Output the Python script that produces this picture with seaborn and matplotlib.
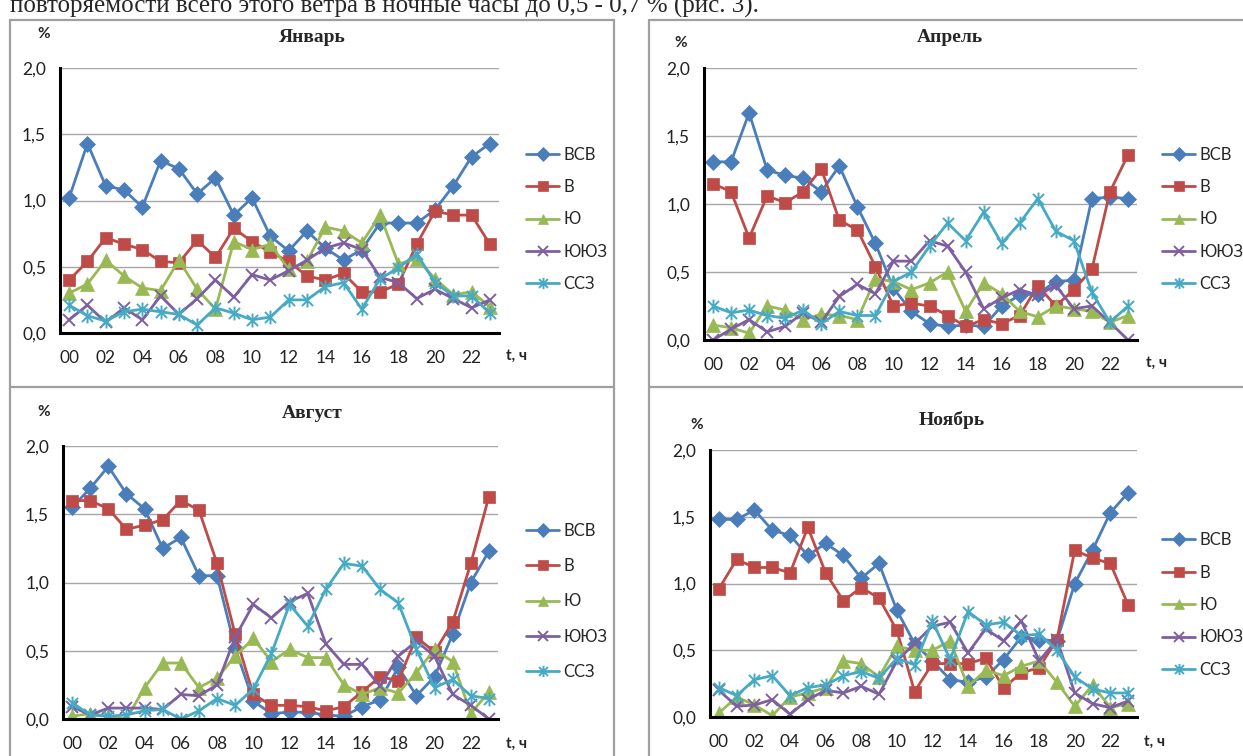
import numpy as np
import matplotlib
matplotlib.use("Agg")
import matplotlib.pyplot as plt
from matplotlib.path import Path
from matplotlib.lines import Line2D
from matplotlib.ticker import FuncFormatter, FixedLocator
import seaborn as sns

# ---- data: hourly wind-direction frequency, % ----
hours = list(range(24))
hour_labels = [f"{h:02d}" for h in range(0, 24, 2)]
series_names = ["ВСВ", "В", "Ю", "ЮЮЗ", "ССЗ"]

jan_vsv = [1.02, 1.43, 1.11, 1.08, 0.95, 1.30, 1.24, 1.05, 1.17, 0.89, 1.02, 0.73,
           0.62, 0.77, 0.64, 0.55, 0.63, 0.83, 0.83, 0.83, 0.93, 1.11, 1.33, 1.43]
jan_v = [0.40, 0.54, 0.72, 0.67, 0.63, 0.54, 0.53, 0.70, 0.57, 0.79, 0.69, 0.61,
         0.54, 0.43, 0.40, 0.45, 0.31, 0.31, 0.37, 0.67, 0.92, 0.89, 0.89, 0.67]
jan_yu = [0.30, 0.37, 0.55, 0.43, 0.34, 0.32, 0.55, 0.33, 0.18, 0.69, 0.63, 0.67,
          0.48, 0.54, 0.80, 0.77, 0.68, 0.89, 0.52, 0.56, 0.41, 0.29, 0.31, 0.20]
jan_yuyuz = [0.10, 0.21, 0.08, 0.19, 0.10, 0.28, 0.14, 0.26, 0.40, 0.27, 0.44, 0.40,
             0.47, 0.55, 0.64, 0.68, 0.63, 0.42, 0.38, 0.26, 0.33, 0.26, 0.19, 0.25]
jan_ssz = [0.21, 0.13, 0.09, 0.16, 0.18, 0.16, 0.14, 0.06, 0.19, 0.15, 0.10, 0.12,
           0.25, 0.25, 0.35, 0.38, 0.18, 0.41, 0.49, 0.60, 0.38, 0.28, 0.28, 0.15]

apr_vsv = [1.31, 1.31, 1.67, 1.25, 1.21, 1.19, 1.09, 1.28, 0.98, 0.71, 0.38, 0.21,
           0.12, 0.10, 0.11, 0.10, 0.25, 0.33, 0.34, 0.43, 0.44, 1.04, 1.05, 1.04]
apr_v = [1.15, 1.09, 0.75, 1.06, 1.01, 1.09, 1.26, 0.88, 0.81, 0.54, 0.25, 0.27,
         0.25, 0.18, 0.10, 0.15, 0.12, 0.18, 0.40, 0.25, 0.37, 0.52, 1.09, 1.36]
apr_yu = [0.11, 0.09, 0.05, 0.25, 0.22, 0.15, 0.19, 0.18, 0.15, 0.45, 0.43, 0.37,
          0.42, 0.50, 0.21, 0.42, 0.34, 0.21, 0.17, 0.25, 0.23, 0.21, 0.13, 0.18]
apr_yuyuz = [0.00, 0.08, 0.15, 0.06, 0.10, 0.20, 0.13, 0.32, 0.41, 0.34, 0.58, 0.58,
             0.73, 0.69, 0.50, 0.23, 0.31, 0.37, 0.33, 0.40, 0.23, 0.25, 0.13, 0.00]
apr_ssz = [0.25, 0.20, 0.22, 0.18, 0.16, 0.22, 0.12, 0.21, 0.18, 0.18, 0.43, 0.50,
           0.69, 0.86, 0.73, 0.94, 0.71, 0.86, 1.04, 0.80, 0.73, 0.35, 0.13, 0.25]

aug_vsv = [1.55, 1.69, 1.85, 1.65, 1.54, 1.25, 1.33, 1.05, 1.05, 0.52, 0.13, 0.04,
           0.05, 0.05, 0.03, 0.02, 0.09, 0.14, 0.38, 0.17, 0.31, 0.62, 1.00, 1.23]
aug_v = [1.60, 1.60, 1.54, 1.39, 1.42, 1.46, 1.60, 1.53, 1.14, 0.62, 0.18, 0.10,
         0.10, 0.09, 0.06, 0.09, 0.20, 0.31, 0.28, 0.60, 0.49, 0.71, 1.14, 1.63]
aug_yu = [0.02, 0.04, 0.02, 0.00, 0.23, 0.41, 0.41, 0.23, 0.30, 0.46, 0.59, 0.42,
          0.51, 0.45, 0.45, 0.25, 0.18, 0.23, 0.19, 0.34, 0.51, 0.42, 0.04, 0.20]
aug_yuyuz = [0.09, 0.03, 0.08, 0.08, 0.08, 0.07, 0.18, 0.17, 0.25, 0.60, 0.84, 0.74,
             0.86, 0.92, 0.55, 0.40, 0.40, 0.24, 0.46, 0.57, 0.46, 0.18, 0.10, 0.00]
aug_ssz = [0.12, 0.03, 0.02, 0.03, 0.06, 0.07, 0.00, 0.06, 0.15, 0.10, 0.22, 0.48,
           0.84, 0.68, 0.95, 1.14, 1.12, 0.95, 0.85, 0.51, 0.23, 0.29, 0.17, 0.15]

nov_vsv = [1.48, 1.48, 1.55, 1.40, 1.36, 1.21, 1.30, 1.21, 1.04, 1.15, 0.80, 0.55,
           0.42, 0.28, 0.26, 0.30, 0.43, 0.60, 0.58, 0.57, 1.00, 1.25, 1.53, 1.68]
nov_v = [0.96, 1.18, 1.12, 1.12, 1.08, 1.42, 1.08, 0.87, 0.97, 0.89, 0.65, 0.19,
         0.40, 0.40, 0.40, 0.44, 0.22, 0.33, 0.37, 0.58, 1.25, 1.19, 1.15, 0.84]
nov_yu = [0.03, 0.15, 0.09, 0.01, 0.15, 0.18, 0.22, 0.42, 0.40, 0.30, 0.53, 0.50,
          0.50, 0.57, 0.23, 0.35, 0.31, 0.38, 0.42, 0.26, 0.08, 0.24, 0.07, 0.10]
nov_yuyuz = [0.20, 0.08, 0.09, 0.13, 0.02, 0.13, 0.20, 0.18, 0.23, 0.17, 0.42, 0.55,
             0.68, 0.71, 0.48, 0.66, 0.57, 0.72, 0.42, 0.58, 0.18, 0.10, 0.07, 0.12]
nov_ssz = [0.22, 0.16, 0.28, 0.31, 0.16, 0.22, 0.24, 0.31, 0.34, 0.29, 0.44, 0.39,
           0.72, 0.43, 0.79, 0.69, 0.71, 0.61, 0.62, 0.50, 0.30, 0.21, 0.18, 0.18]

months = ["Январь", "Апрель", "Август", "Ноябрь"]
month_series = [
    [jan_vsv, jan_v, jan_yu, jan_yuyuz, jan_ssz],
    [apr_vsv, apr_v, apr_yu, apr_yuyuz, apr_ssz],
    [aug_vsv, aug_v, aug_yu, aug_yuyuz, aug_ssz],
    [nov_vsv, nov_v, nov_yu, nov_yuyuz, nov_ssz],
]

# ---- styling ----
sns.set_style("white")
plt.rcParams["font.family"] = ["Lato", "Noto Sans", "DejaVu Sans"]

W, H = 1243, 756
colors = ["#4a7ebb", "#be4b48", "#98b954", "#7d60a0", "#46aac5"]
asterisk = Path([(-1, -1), (1, 1), (-1, 1), (1, -1), (0, -1.25), (0, 1.25)],
                [Path.MOVETO, Path.LINETO, Path.MOVETO, Path.LINETO, Path.MOVETO, Path.LINETO])
marker_kw = [
    dict(marker="D", markersize=8.5, markerfacecolor=colors[0], markeredgecolor=colors[0], markeredgewidth=0.5),
    dict(marker="s", markersize=9, markerfacecolor=colors[1], markeredgecolor=colors[1], markeredgewidth=0.5),
    dict(marker="^", markersize=9.5, markerfacecolor=colors[2], markeredgecolor=colors[2], markeredgewidth=0.5),
    dict(marker="x", markersize=9, markerfacecolor="none", markeredgecolor=colors[3], markeredgewidth=1.4),
    dict(marker=asterisk, markersize=10, markerfacecolor="none", markeredgecolor=colors[4], markeredgewidth=1.4),
]

# pixel layout of each panel: axes box, title, "%" label, "t, ч" label, legend anchor, legend row step
panels = [
    dict(ax=(60, 68, 499, 333), title=(312, 38), pct=(44, 34), tlab=(517, 356), leg=(526, 147), step=31.2),
    dict(ax=(704, 68, 1137, 340), title=(950, 38), pct=(681, 43), tlab=(1157, 363), leg=(1162, 147), step=31.2),
    dict(ax=(63, 446, 498, 719), title=(312, 413), pct=(44, 412), tlab=(516, 744), leg=(526, 523), step=34.2),
    dict(ax=(710, 450, 1137, 717), title=(952, 420), pct=(697, 425), tlab=(1155, 742), leg=(1162, 532), step=31.5),
]

fig = plt.figure(figsize=(W / 100, H / 100), dpi=100)

comma = FuncFormatter(lambda v, pos: f"{v:.1f}".replace(".", ","))

for name, data, p in zip(months, month_series, panels):
    x0, y0, x1, y1 = p["ax"]
    ax = fig.add_axes([x0 / W, 1 - y1 / H, (x1 - x0) / W, (y1 - y0) / H])
    handles = []
    for label, vals, col, mk in zip(series_names, data, colors, marker_kw):
        sns.lineplot(x=hours, y=vals, ax=ax, color=col, linewidth=2.0, **mk)
        handles.append(Line2D([], [], color=col, linewidth=2.0, **{**mk, "markersize": mk["markersize"] * 0.8}))
    ax.set_xlim(-0.5, 23.5)
    ax.set_ylim(0, 2.0)
    ax.set_xlabel("")
    ax.set_ylabel("")
    ax.set_yticks([0, 0.5, 1.0, 1.5, 2.0])
    ax.yaxis.set_major_formatter(comma)
    ax.set_xticks(range(0, 24, 2))
    ax.set_xticklabels(hour_labels)
    ax.xaxis.set_minor_locator(FixedLocator(np.arange(-0.5, 24, 1)))
    ax.tick_params(axis="x", which="major", length=0, pad=12, labelsize=12.5, colors="#222222")
    ax.tick_params(axis="x", which="minor", length=4, width=1.6, direction="out", color="black")
    ax.tick_params(axis="y", which="major", length=4, width=1.6, direction="out", pad=6,
                   labelsize=12.5, colors="#222222")
    ax.tick_params(axis="both", color="black")
    ax.grid(axis="y", color="#a6a6a6", linewidth=1.0)
    ax.grid(axis="x", visible=False)
    ax.set_axisbelow(True)
    for side in ("top", "right"):
        ax.spines[side].set_visible(False)
    for side in ("left", "bottom"):
        ax.spines[side].set_color("black")
        ax.spines[side].set_linewidth(2.2)
        ax.spines[side].set_zorder(5)

    fs = 12
    row_px = 15.0
    ax.legend(handles, series_names, loc="upper left",
              bbox_to_anchor=(p["leg"][0] / W, 1 - p["leg"][1] / H), bbox_transform=fig.transFigure,
              frameon=False, borderpad=0, borderaxespad=0, handlelength=2.0, handletextpad=0.25,
              labelspacing=(p["step"] - row_px) / (fs * 100 / 72), fontsize=fs)

    fig.text(p["title"][0] / W, 1 - p["title"][1] / H, name, ha="center", va="center",
             fontsize=14, fontweight="bold", family="Liberation Serif")
    fig.text(p["pct"][0] / W, 1 - p["pct"][1] / H, "%", ha="center", va="center",
             fontsize=11, fontweight="bold")
    fig.text(p["tlab"][0] / W, 1 - p["tlab"][1] / H, "t, ч", ha="center", va="center",
             fontsize=11, fontweight="bold")

# table cell borders around the four charts
border = dict(color="#a0a0a0", linewidth=1.6, transform=fig.transFigure)
def hline(y, xa, xb):
    fig.add_artist(Line2D([xa / W, xb / W], [1 - y / H, 1 - y / H], **border))
def vline(x, ya, yb):
    fig.add_artist(Line2D([x / W, x / W], [1 - ya / H, 1 - yb / H], **border))

hline(20, 10, 614)
hline(20, 649, 1243)
hline(387, 10, 614)
hline(387, 649, 1243)
vline(10.5, 20, 756)
vline(613.5, 20, 756)
vline(649, 20, 756)

# running text line above the table (cut by the page edge)
fig.text(10 / W, 1 - 13 / H,
         "повторяемости всего этого ветра в ночные часы до 0,5 - 0,7 % (рис. 3).",
         ha="left", va="baseline", fontsize=18, family="Liberation Serif")

fig.savefig("out.png", dpi=100)
